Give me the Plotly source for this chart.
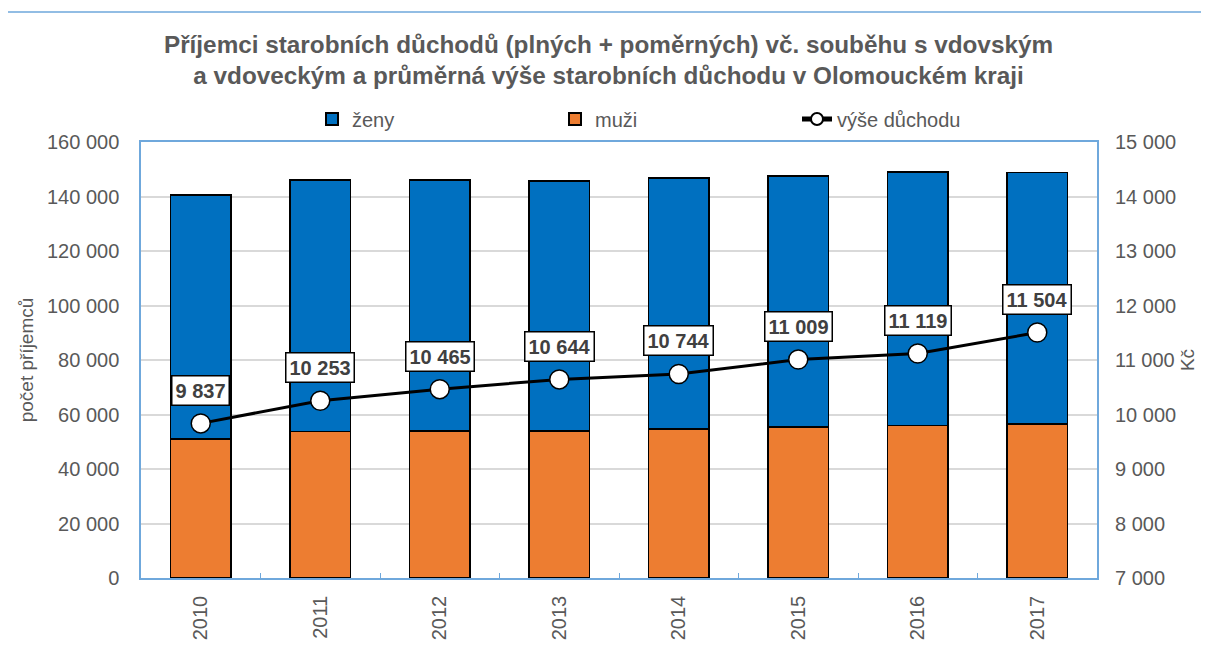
import plotly.graph_objects as go

years = ["2010", "2011", "2012", "2013", "2014", "2015", "2016", "2017"]
muzi = [51000, 53800, 53900, 54000, 54700, 55400, 55900, 56600]
zeny = [89500, 92200, 92100, 91700, 92100, 92100, 93100, 92300]
vyse = [9837, 10253, 10465, 10644, 10744, 11009, 11119, 11504]

BLUE = "#0070C0"
ORANGE = "#ED7D31"
GREY = "#595959"
AXIS = "#6FA8DC"
FONT = "Liberation Sans, Arial, sans-serif"

fig = go.Figure()
fig.add_trace(go.Bar(x=years, y=muzi, name="muži", legend="legend2",
                     marker=dict(color=ORANGE, line=dict(color="black", width=1.5)), width=0.51))
fig.add_trace(go.Bar(x=years, y=zeny, name="ženy", legend="legend",
                     marker=dict(color=BLUE, line=dict(color="black", width=1.5)), width=0.51))
fig.add_trace(go.Scatter(x=years, y=vyse, name="výše důchodu", yaxis="y2", mode="lines+markers",
                         legend="legend3",
                         line=dict(color="black", width=3),
                         marker=dict(symbol="circle", size=19, color="white", line=dict(color="black", width=1.5))))

for i, v in enumerate(vyse):
    txt = f"{v:,}".replace(",", " ")
    fig.add_annotation(x=i, y=v, xref="x", yref="y2", text=f"<b>{txt}</b>", showarrow=False,
                       yshift=33, bgcolor="white", bordercolor="black", borderwidth=1.5, borderpad=3,
                       font=dict(family=FONT, size=20, color="#404040"))

leg = dict(orientation="h", xanchor="left", y=1.008, yanchor="bottom", itemsizing="constant",
           bgcolor="rgba(0,0,0,0)", font=dict(family=FONT, size=20, color=GREY))

fig.update_layout(
    width=1201, height=646,
    barmode="stack",
    separators=", ",
    showlegend=True,
    paper_bgcolor="white", plot_bgcolor="white",
    margin=dict(l=133, r=112, t=134, b=76),
    title=dict(text="<b>Příjemci starobních důchodů (plných + poměrných) vč. souběhu s vdovským<br>a vdoveckým a průměrná výše starobních důchodu v Olomouckém kraji</b>",
               x=0.5, xanchor="center", y=0.931, yanchor="middle",
               font=dict(family=FONT, size=24.3, color=GREY)),
    legend=dict(leg, x=(312 - 141) / 956),
    legend2=dict(leg, x=(555 - 141) / 956),
    legend3=dict(leg, x=(797 - 141) / 956),
    xaxis=dict(type="category", range=[-0.5, 7.5], showline=True, linecolor=AXIS, linewidth=1.5, mirror=True,
               tickangle=-90, ticks="inside", tickcolor=AXIS, ticklen=5, tickson="boundaries",
               automargin=False, ticklabelstandoff=8,
               tickfont=dict(family=FONT, size=20, color=GREY)),
    yaxis=dict(range=[0, 160000], dtick=20000, tickformat=",d", showline=True, linecolor=AXIS, linewidth=1.5,
               mirror=True, gridcolor="#D9D9D9", gridwidth=1.5, automargin=False, ticklabelstandoff=16,
               tickfont=dict(family=FONT, size=20, color=GREY),
               title=dict(text="počet příjemců", font=dict(family=FONT, size=19, color=GREY), standoff=8)),
    yaxis2=dict(range=[7000, 15000], dtick=1000, tickformat=",d", overlaying="y", side="right",
                showgrid=False, showline=False, zeroline=False, automargin=False, ticklabelstandoff=17,
                tickfont=dict(family=FONT, size=20, color=GREY),
                title=dict(text="Kč", font=dict(family=FONT, size=19, color=GREY), standoff=5)),
)
fig.add_shape(type="rect", xref="paper", yref="paper", x0=(4 - 141) / 956, x1=1.2, y0=-0.4, y1=(578 - 12) / 436,
              line=dict(color=AXIS, width=1.5), layer="below")

fig.write_html("out.html")
